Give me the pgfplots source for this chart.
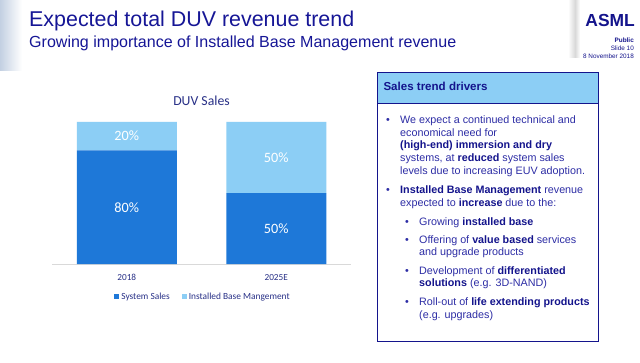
\documentclass[border=0pt]{standalone}
\usepackage{pgfplots}
\pgfplotsset{compat=1.18}
\usepackage{fontspec}
\setmainfont{Liberation Sans}
\newfontfamily\carlito{Carlito}
\definecolor{navy}{RGB}{20,20,140}
\definecolor{titleblue}{RGB}{22,22,150}
\definecolor{bodyblue}{RGB}{45,45,165}
\definecolor{darkbar}{RGB}{30,120,216}
\definecolor{lightbar}{RGB}{140,206,245}
\definecolor{chartnavy}{RGB}{40,48,135}
\definecolor{fadeblue}{RGB}{195,208,226}
\newcommand{\fs}[1]{\fontsize{#1}{#1}\selectfont}
\begin{document}
\begin{tikzpicture}[x=1bp,y=1bp]
\path[use as bounding box] (0,0) rectangle (640,362);
\fill[white] (0,0) rectangle (640,362);
% decorations
\shade[left color=fadeblue, right color=white] (0,292) rectangle (22,362);
\shade[left color=white, right color=gray!30] (568,305) rectangle (575,362);
\shade[left color=gray!30, right color=white] (575,305) rectangle (580,362);
% titles
\node[anchor=base west, inner sep=0, text=titleblue, font=\fs{21.5}] at (29,335.3) {Expected total DUV revenue trend};
\node[anchor=base west, inner sep=0, text=titleblue, font=\fs{16.1}] at (29,314.8) {Growing importance of Installed Base Management revenue};
\node[anchor=base east, inner sep=0, text=navy, font=\bfseries\fs{17.5}] at (635,335.3) {ASML};
\node[anchor=base east, inner sep=0, text=navy, font=\bfseries\fs{6.4}] at (634,319.3) {Public};
\node[anchor=base east, inner sep=0, text=navy, font=\fs{6.4}] at (634,311.7) {Slide 10};
\node[anchor=base east, inner sep=0, text=navy, font=\fs{6.4}] at (634,303.7) {8 November 2018};
% box
\fill[lightbar] (377.3,259) rectangle (598.3,290);
\draw[navy, line width=1bp] (377.3,20.3) rectangle (598.3,290);
\draw[navy, line width=1bp] (377.3,259) -- (598.3,259);
\node[anchor=base west, inner sep=0, text=navy, font=\bfseries\fs{11.6}] at (383.3,272) {Sales trend drivers};
\begin{scope}[every node/.style={anchor=base west, inner sep=0, text=bodyblue, font=\fs{10.8}}]
\node at (386,238.7) {\textbullet};
\node at (400,238.7) {We expect a continued technical and};
\node at (400,226) {economical need for};
\node at (400,213.3) {\textbf{\textcolor{navy}{(high-end) immersion and dry}}};
\node at (400,200.3) {systems, at \textbf{\textcolor{navy}{reduced}} system sales};
\node at (400,188) {levels due to increasing EUV adoption.};
\node at (386,168.7) {\textbullet};
\node at (400,168.7) {\textbf{\textcolor{navy}{Installed Base Management}} revenue};
\node at (400,156) {expected to \textbf{\textcolor{navy}{increase}} due to the:};
\node at (405,137) {\textbullet};
\node at (419,137) {Growing \textbf{\textcolor{navy}{installed base}}};
\node at (405,118.7) {\textbullet};
\node at (419,118.7) {Offering of \textbf{\textcolor{navy}{value based}} services};
\node at (419,106.3) {and upgrade products};
\node at (405,87.7) {\textbullet};
\node at (419,87.7) {Development of \textbf{\textcolor{navy}{differentiated}}};
\node at (419,75.3) {\textbf{\textcolor{navy}{solutions}} (e.g. 3D-NAND)};
\node at (405,56.3) {\textbullet};
\node at (419,56.3) {Roll-out of \textbf{\textcolor{navy}{life extending products}}};
\node at (419,43.7) {(e.g. upgrades)};
\end{scope}
% chart
\begin{axis}[
  at={(52bp,98bp)}, anchor=south west,
  scale only axis, width=299bp, height=142bp,
  xmin=-0.5, xmax=1.5, ymin=0, ymax=100,
  ybar stacked, bar width=100bp,
  axis x line*=bottom, axis y line=none,
  x axis line style={draw=gray!30, line width=0.8bp},
  xtick=\empty, ytick=\empty,
  clip=false,
  legend columns=-1,
  legend style={at={(0.505,-0.232)}, anchor=center, draw=none, fill=none,
    font=\carlito\fs{9.4}, text=chartnavy,
    /tikz/every even column/.append style={column sep=10bp}},
  legend image code/.code={\fill[#1] (0bp,-2.5bp) rectangle (5bp,2.5bp);},
]
\addplot[fill=darkbar, draw=none] coordinates {(0,80) (1,50)};
\addplot[fill=lightbar, draw=none] coordinates {(0,20) (1,50)};
\legend{System Sales, Installed Base Mangement}
\coordinate (la) at (axis cs:0,40);
\coordinate (lb) at (axis cs:0,90);
\coordinate (lc) at (axis cs:1,25);
\coordinate (ld) at (axis cs:1,75);
\coordinate (ta) at (axis cs:0,-11.5);
\coordinate (tb) at (axis cs:1,-11.5);
\coordinate (tt) at (axis cs:0.5,111.3);
\end{axis}
\node[text=white, font=\carlito\fs{14.3}] at (la) {80\%};
\node[text=white, font=\carlito\fs{14.3}] at (lb) {20\%};
\node[text=white, font=\carlito\fs{14.3}] at (lc) {50\%};
\node[text=white, font=\carlito\fs{14.3}] at (ld) {50\%};
\node[anchor=base, inner sep=0, text=chartnavy, font=\carlito\fs{9.3}] at (ta) {2018};
\node[anchor=base, inner sep=0, text=chartnavy, font=\carlito\fs{9.3}] at (tb) {2025E};
\node[anchor=base, inner sep=0, text=chartnavy, font=\carlito\fs{13.8}] at (tt) {DUV Sales};
\end{tikzpicture}
\end{document}
